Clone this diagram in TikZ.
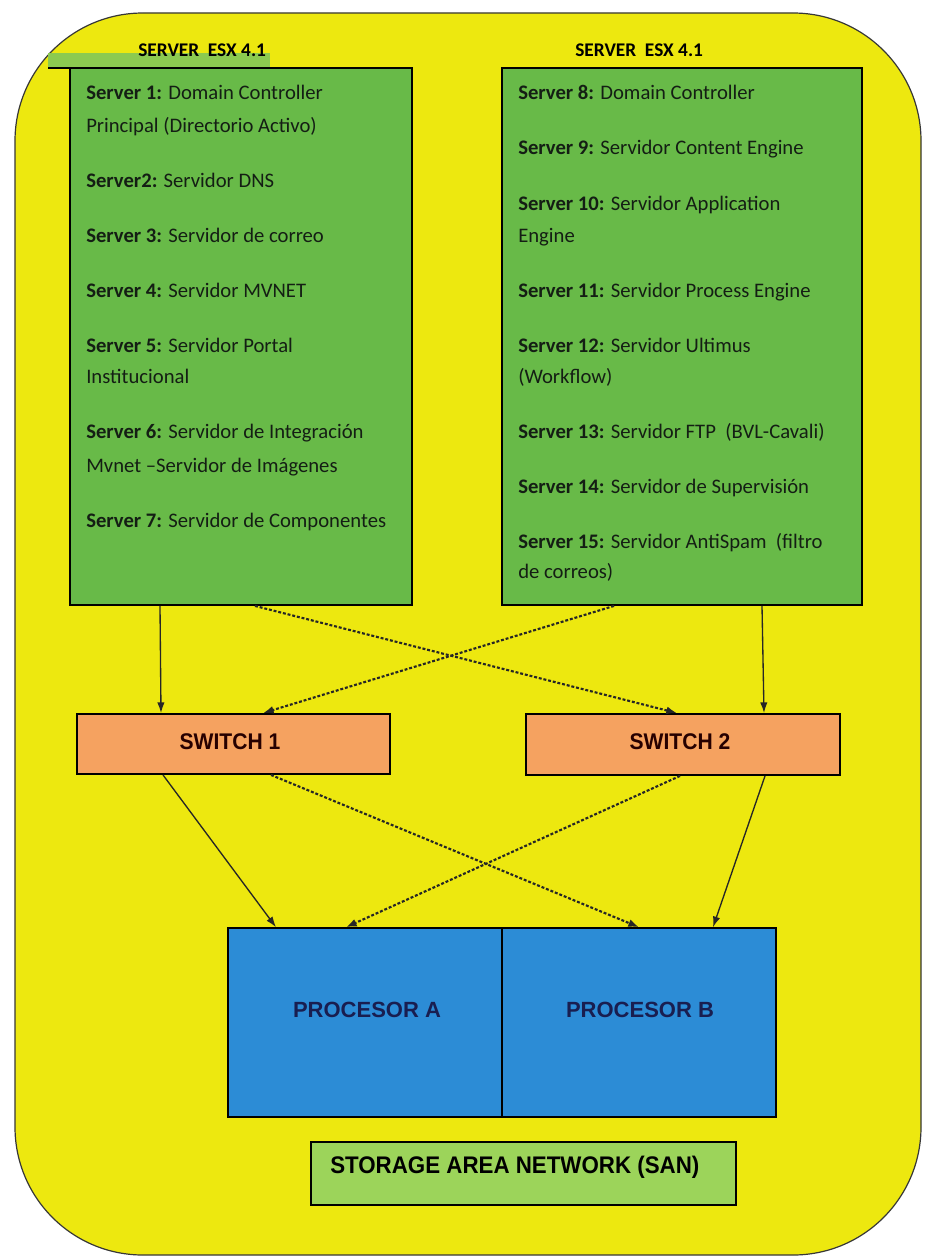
\documentclass[tikz,border=0pt]{standalone}
\usepackage{fontspec}
\setmainfont{Carlito}
\newfontfamily\arialfont{Liberation Sans}
\usetikzlibrary{arrows.meta}

\definecolor{sanyellow}{RGB}{237,232,15}
\definecolor{srvgreen}{RGB}{104,186,72}
\definecolor{bandgreen}{RGB}{140,202,80}
\definecolor{sworange}{RGB}{245,162,96}
\definecolor{procblue}{RGB}{44,140,214}
\definecolor{sangreen}{RGB}{156,212,90}
\definecolor{inkdark}{RGB}{20,30,20}
\definecolor{navyink}{RGB}{25,30,80}
\definecolor{edgegray}{RGB}{55,55,55}

\tikzset{
  box/.style={draw=black, line width=1.4pt, inner sep=0pt},
  srvbox/.style={box, fill=srvgreen},
  swbox/.style={box, fill=sworange},
  swtext/.style={inner sep=0pt, text=black!85!red, font=\arialfont\bfseries\fontsize{17}{20}\selectfont, xscale=0.93},
  procbox/.style={box, fill=procblue, line width=1.2pt},
  sanbox/.style={box, fill=sangreen},
  srvline/.style={anchor=base west, inner sep=0pt, text=inkdark, font=\fontsize{15.5}{18}\selectfont},
  esxlabel/.style={anchor=base west, inner sep=0pt, text=black, font=\bfseries\fontsize{14.5}{17}\selectfont},
  bigtext/.style={inner sep=0pt, font=\arialfont\bfseries\fontsize{16.5}{19}\selectfont},
  santext/.style={inner sep=0pt, text=black, font=\arialfont\bfseries\fontsize{18}{21}\selectfont, xscale=0.93},
  solidlink/.style={draw=black!85, line width=1pt, -{Latex[length=8pt,width=5.5pt]}},
  dashlink/.style={draw=black!85, line width=1.6pt, dash pattern=on 2.2pt off 1.4pt, -{Latex[length=8pt,width=6pt]}},
}

\begin{document}
\begin{tikzpicture}[x=0.75pt, y=-0.75pt]
\useasboundingbox (0,0) rectangle (924,1259);
\fill[white] (0,0) rectangle (924,1259);

% yellow enclosure
\draw[fill=sanyellow, draw=edgegray, line width=0.9pt, rounded corners=96pt]
  (15,13) rectangle (921,1255);

% small green band on the top left
\fill[bandgreen] (48,53) rectangle (270,68);
\draw[black, line width=1.4pt] (48,68) -- (270,68);

% server hosts
\node[srvbox, minimum width=256.5pt, minimum height=402.75pt] (srvL) at (241,336.5) {};
\node[srvbox, minimum width=270pt, minimum height=402.75pt] (srvR) at (682,336.5) {};

\node[esxlabel] (esxL) at (138,57) {SERVER~ ESX 4.1};
\node[esxlabel] (esxR) at (575,57) {SERVER~ ESX 4.1};

% left host
\node[srvline] (s1a) at (86,100) {\textbf{Server 1:} Domain Controller};
\node[srvline] (s1b) at (86,133) {Principal (Directorio Activo)};
\node[srvline] (s2)  at (86,187) {\textbf{Server2:} Servidor DNS};
\node[srvline] (s3)  at (86,242) {\textbf{Server 3:} Servidor de correo};
\node[srvline] (s4)  at (86,297) {\textbf{Server 4:} Servidor MVNET};
\node[srvline] (s5a) at (86,352) {\textbf{Server 5:} Servidor Portal};
\node[srvline] (s5b) at (86,383) {Institucional};
\node[srvline] (s6a) at (86,438) {\textbf{Server 6:} Servidor de Integración};
\node[srvline] (s6b) at (86,472) {Mvnet –Servidor de Imágenes};
\node[srvline] (s7)  at (86,527) {\textbf{Server 7:} Servidor de Componentes};

% right host
\node[srvline] (s8)   at (518,100) {\textbf{Server 8:} Domain Controller};
\node[srvline] (s9)   at (518,155) {\textbf{Server 9:} Servidor Content Engine};
\node[srvline] (s10a) at (518,210) {\textbf{Server 10:} Servidor Application};
\node[srvline] (s10b) at (518,242) {Engine};
\node[srvline] (s11)  at (518,297) {\textbf{Server 11:} Servidor Process Engine};
\node[srvline] (s12a) at (518,352) {\textbf{Server 12:} Servidor Ultimus};
\node[srvline] (s12b) at (518,383) {(Workflow)};
\node[srvline] (s13)  at (518,438) {\textbf{Server 13:} Servidor FTP~ (BVL-Cavali)};
\node[srvline] (s14)  at (518,493) {\textbf{Server 14:} Servidor de Supervisión};
\node[srvline] (s15a) at (518,548) {\textbf{Server 15:} Servidor AntiSpam~ (filtro};
\node[srvline] (s15b) at (518,578) {de correos)};

% switches
\node[swbox, minimum width=234.75pt, minimum height=45pt] (sw1) at (233.5,744) {};
\node[swbox, minimum width=235.5pt, minimum height=45.75pt] (sw2) at (683,744.5) {};
\node[swtext] (sw1t) at (230,742) {SWITCH 1};
\node[swtext] (sw2t) at (680,742) {SWITCH 2};

% processors
\node[procbox, minimum width=205.5pt, minimum height=141.75pt] (procA) at (365,1022.5) {};
\node[procbox, minimum width=205.5pt, minimum height=141.75pt] (procB) at (639,1022.5) {};
\node[bigtext, text=navyink] (procAt) at (367,1010) {PROCESOR A};
\node[bigtext, text=navyink] (procBt) at (640,1010) {PROCESOR B};

% storage area network
\node[sanbox, minimum width=318.75pt, minimum height=47.25pt] (san) at (523.5,1173.5) {};
\node[santext, anchor=west] (sant) at (330,1167) {STORAGE AREA NETWORK (SAN)};

% hosts to switches
\draw[solidlink] (srvL.south -| 160,0) -- (sw1.north -| 161,0);
\draw[dashlink]  (srvL.south -| 255,0) -- (sw2.north -| 677,0);
\draw[dashlink]  (srvR.south -| 614,0) -- (sw1.north -| 263,0);
\draw[solidlink] (srvR.south -| 762,0) -- (sw2.north -| 764,0);

% switches to processors
\draw[solidlink] (sw1.south -| 163,0) -- (procA.north -| 276,0);
\draw[dashlink]  (sw1.south -| 271,0) -- (procB.north -| 639,0);
\draw[dashlink]  (sw2.south -| 680,0) -- (procA.north -| 346,0);
\draw[solidlink] (sw2.south -| 765,0) -- (procB.north -| 713,0);
\end{tikzpicture}
\end{document}
